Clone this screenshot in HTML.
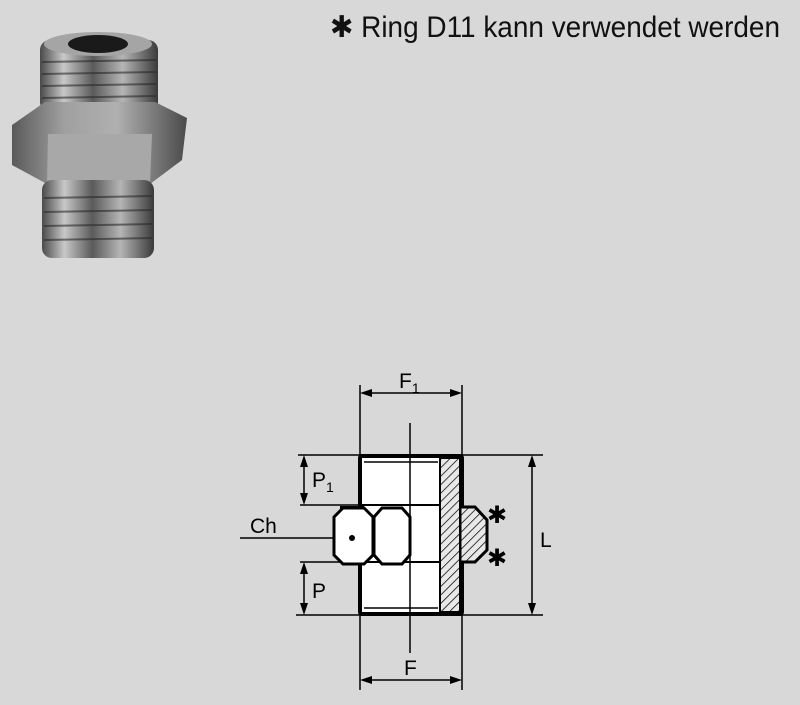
<!DOCTYPE html>
<html><head><style>html,body{margin:0;padding:0;background:#d8d8d8;}svg{display:block}</style></head>
<body>
<svg width="800" height="705" viewBox="0 0 800 705" xmlns="http://www.w3.org/2000/svg">
<defs>
<linearGradient id="m" x1="0" x2="1" y1="0" y2="0">
<stop offset="0" stop-color="#4a4a4a"/><stop offset="0.2" stop-color="#c8c8c8"/><stop offset="0.45" stop-color="#5a5a5a"/><stop offset="0.7" stop-color="#b5b5b5"/><stop offset="1" stop-color="#3a3a3a"/></linearGradient>
<linearGradient id="h" x1="0" x2="1" y1="0" y2="0">
<stop offset="0" stop-color="#5a5a5a"/><stop offset="0.3" stop-color="#a0a0a0"/><stop offset="0.6" stop-color="#b0b0b0"/><stop offset="1" stop-color="#4a4a4a"/></linearGradient>
<pattern id="hat" width="6" height="6" patternUnits="userSpaceOnUse" patternTransform="rotate(45)"><rect width="6" height="6" fill="#e8e8e8"/><line x1="0" y1="0" x2="0" y2="6" stroke="#000" stroke-width="1.5"/></pattern>
</defs>
<rect width="800" height="705" fill="#d8d8d8"/>
<text x="330" y="37" font-family="Liberation Sans, sans-serif" font-size="30" fill="#111" textLength="450" lengthAdjust="spacingAndGlyphs">✱ Ring D11 kann verwendet werden</text>
<!-- photo -->
<rect x="40" y="40" width="118" height="72" rx="10" fill="url(#m)"/>
<ellipse cx="98" cy="44" rx="54" ry="12" fill="#a5a5a5"/>
<ellipse cx="98" cy="44" rx="30" ry="9" fill="#1a1a1a"/>
<g stroke="#2a2a2a" stroke-width="2" opacity="0.6"><line x1="42" y1="62" x2="156" y2="60"/><line x1="42" y1="74" x2="156" y2="72"/><line x1="42" y1="86" x2="156" y2="84"/><line x1="42" y1="98" x2="156" y2="96"/></g>
<polygon points="12,125 45,102 155,102 187,118 182,160 150,184 47,184 12,165" fill="url(#h)"/>
<polygon points="48,134 152,134 150,184 47,184" fill="#a8a8a8"/>
<rect x="42" y="180" width="112" height="78" rx="10" fill="url(#m)"/>
<g stroke="#2a2a2a" stroke-width="2" opacity="0.6"><line x1="44" y1="198" x2="152" y2="196"/><line x1="44" y1="212" x2="152" y2="210"/><line x1="44" y1="226" x2="152" y2="224"/><line x1="44" y1="240" x2="152" y2="238"/></g>
<!-- drawing -->
<g stroke="#000" fill="none">
<line x1="360" y1="385" x2="360" y2="690" stroke-width="1.5"/>
<line x1="462" y1="385" x2="462" y2="690" stroke-width="1.5"/>
<line x1="298" y1="455" x2="543" y2="455" stroke-width="1.5"/>
<line x1="296" y1="615" x2="543" y2="615" stroke-width="1.5"/>
<line x1="300" y1="505" x2="365" y2="505" stroke-width="1.5"/>
<line x1="300" y1="562" x2="360" y2="562" stroke-width="1.5"/>
<line x1="240" y1="538" x2="354" y2="538" stroke-width="1.5"/>
<line x1="364" y1="393" x2="458" y2="393" stroke-width="1.5"/>
<line x1="364" y1="680" x2="458" y2="680" stroke-width="1.5"/>
<line x1="304" y1="459" x2="304" y2="501" stroke-width="1.5"/>
<line x1="304" y1="566" x2="304" y2="611" stroke-width="1.5"/>
<line x1="532" y1="459" x2="532" y2="611" stroke-width="1.5"/>
</g>
<g fill="#000">
<polygon points="360,393 372,389 372,397"/><polygon points="462,393 450,389 450,397"/>
<polygon points="360,680 372,676 372,684"/><polygon points="462,680 450,676 450,684"/>
<polygon points="304,455 300,467 308,467"/><polygon points="304,505 300,493 308,493"/>
<polygon points="304,562 300,574 308,574"/><polygon points="304,615 300,603 308,603"/>
<polygon points="532,455 528,467 536,467"/><polygon points="532,615 528,603 536,603"/>
</g>
<rect x="360" y="456" width="102" height="158" fill="#fff" stroke="#000" stroke-width="4" rx="2"/>
<rect x="340" y="506" width="22" height="56" fill="#000"/>
<polygon points="460,507 475,507 487,520 487,550 475,562 460,562" fill="url(#hat)" stroke="#000" stroke-width="3"/>
<rect x="440" y="458" width="20" height="154" fill="url(#hat)" stroke="#000" stroke-width="2"/>
<rect x="363" y="505" width="77" height="57" fill="#fff" stroke="#000" stroke-width="2"/>
<line x1="364" y1="462" x2="438" y2="462" stroke="#000" stroke-width="1.5"/>
<line x1="364" y1="608" x2="438" y2="608" stroke="#000" stroke-width="1.5"/>
<polygon points="334,517 343,508 364,508 373,517 373,555 364,564 343,564 334,555" fill="#fff" stroke="#000" stroke-width="3"/>
<polygon points="374,517 382,508 402,508 410,517 410,555 402,564 382,564 374,555" fill="#fff" stroke="#000" stroke-width="3"/>
<circle cx="352" cy="538" r="3" fill="#000"/>
<line x1="410" y1="423" x2="410" y2="653" stroke="#000" stroke-width="1.5"/>
<g font-family="Liberation Sans, sans-serif" font-size="21" fill="#000">
<text x="399" y="388">F<tspan font-size="14" dy="5">1</tspan></text>
<text x="404" y="675">F</text>
<text x="312" y="487">P<tspan font-size="14" dy="5">1</tspan></text>
<text x="312" y="598">P</text>
<text x="250" y="533">Ch</text>
<text x="540" y="547">L</text>
<text x="487" y="523" font-size="24">✱</text>
<text x="487" y="566" font-size="24">✱</text>
</g>
</svg>
</body></html>
